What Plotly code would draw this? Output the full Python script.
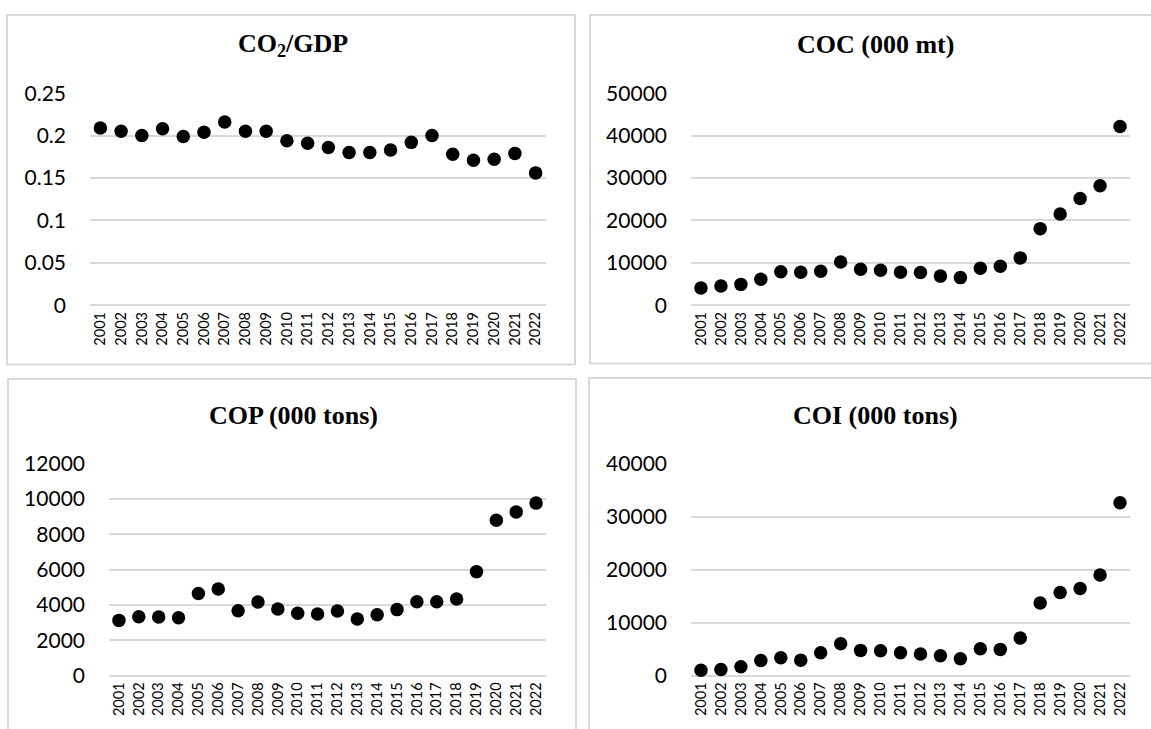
import plotly.graph_objects as go

years = [str(y) for y in range(2001, 2023)]

co2_gdp = [0.209, 0.205, 0.200, 0.208, 0.199, 0.204, 0.216, 0.205, 0.205, 0.194,
           0.191, 0.186, 0.180, 0.180, 0.183, 0.192, 0.200, 0.178, 0.171, 0.172,
           0.179, 0.156]
coc = [4050, 4500, 4900, 6100, 7900, 7750, 8000, 10200, 8450, 8250,
       7750, 7700, 6850, 6500, 8700, 9200, 11150, 18050, 21500, 25150,
       28150, 42150]
cop = [3120, 3330, 3310, 3270, 4640, 4900, 3670, 4160, 3770, 3520,
       3480, 3650, 3200, 3440, 3730, 4180, 4180, 4330, 5880, 8790,
       9260, 9760]
coi = [1000, 1140, 1640, 2850, 3350, 2900, 4300, 6000, 4740, 4680,
       4300, 4040, 3730, 3160, 5060, 4930, 7080, 13700, 15670, 16430,
       18950, 32600]

titles = ["<b>CO<sub>2</sub>/GDP</b>", "<b>COC (000 mt)</b>",
          "<b>COP (000 tons)</b>", "<b>COI (000 tons)</b>"]
series = [co2_gdp, coc, cop, coi]
y_ranges = [(0, 0.25), (0, 50000), (0, 12000), (0, 40000)]
y_dticks = [0.05, 10000, 2000, 10000]
y_formats = ["", "d", "d", "d"]

W, H = 1151, 729
# plot areas in pixels: (x0, x1, ytop, ybottom)
areas = [(90, 546, 82, 301.5), (691, 1130, 82, 301.5),
         (109, 546, 465.5, 685), (691, 1130, 465.5, 685)]
title_pos = [(293, 32), (875, 32), (293, 416), (875, 416)]
borders = [(7, 575, 1, 363), (590, 1160, 1, 362),
           (8, 576, 378, 790), (589, 1160, 377, 790)]

fig = go.Figure()
layout = dict(width=W, height=H, margin=dict(l=0, r=0, t=0, b=0),
              paper_bgcolor="white", plot_bgcolor="white", showlegend=False)

grid_col = "#d9d9d9"
shapes = []
annotations = []
for i in range(4):
    n = "" if i == 0 else str(i + 1)
    fig.add_trace(go.Scatter(x=years, y=series[i], mode="markers",
                             marker=dict(color="black", size=13.5),
                             xaxis="x" + n, yaxis="y" + n,
                             cliponaxis=False, hoverinfo="skip"))
    x0, x1, yt, yb = areas[i]
    layout["xaxis" + n] = dict(
        domain=[x0 / W, x1 / W], anchor="y" + n, type="category",
        range=[-0.5, 21.5], tickangle=-90, showgrid=False, showline=False,
        zeroline=False, ticks="", ticklabelstandoff=3,
        tickfont=dict(family="Lato", size=14.5, color="black"),
        fixedrange=True)
    layout["yaxis" + n] = dict(
        domain=[1 - yb / H, 1 - yt / H], anchor="x" + n,
        range=list(y_ranges[i]), dtick=y_dticks[i], tick0=0,
        tickformat=y_formats[i],
        showgrid=True, gridcolor=grid_col, gridwidth=1.5,
        zeroline=True, zerolinecolor=grid_col, zerolinewidth=1.5,
        showline=False, ticks="", ticklabelstandoff=23,
        tickfont=dict(family="Lato", size=21, color="black"),
        fixedrange=True)
    bx0, bx1, by0, by1 = borders[i]
    shapes.append(dict(type="rect", xref="paper", yref="paper",
                       x0=bx0 / W, x1=bx1 / W, y0=1 - by1 / H, y1=1 - by0 / H,
                       line=dict(color=grid_col, width=2), layer="below"))
    tx, ty = title_pos[i]
    annotations.append(dict(text=titles[i], xref="paper", yref="paper",
                            x=tx / W, y=1 - ty / H, xanchor="center",
                            yanchor="middle", showarrow=False,
                            font=dict(family="Liberation Serif", size=26,
                                      color="black")))

layout["shapes"] = shapes
layout["annotations"] = annotations
fig.update_layout(**layout)

post = ("document.documentElement.style.margin='0';"
        "document.body.style.margin='0';"
        "document.documentElement.style.overflow='hidden';"
        "document.body.style.overflow='hidden';"
        "var d=document.getElementById('{plot_id}');"
        "d.style.position='absolute';d.style.top='0px';d.style.left='0px';")
fig.write_html("out.html", config={"displayModeBar": False}, post_script=post)
